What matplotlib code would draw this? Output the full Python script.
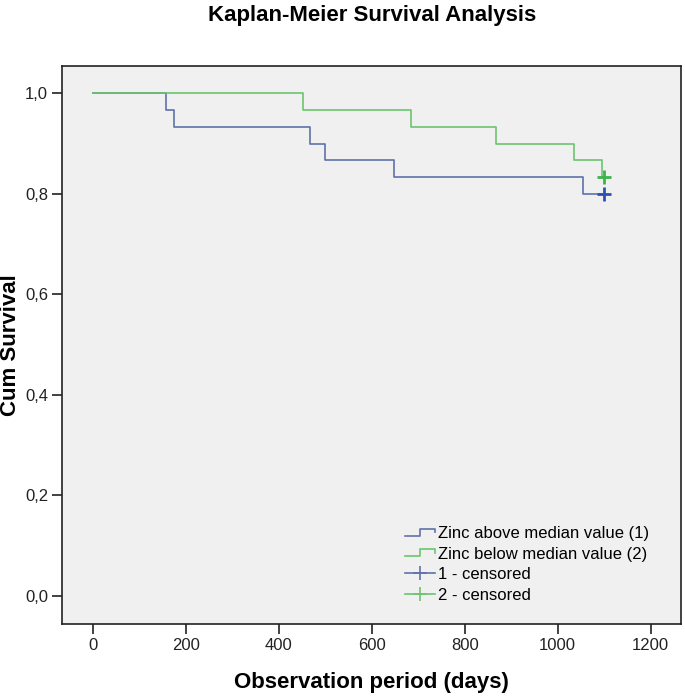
import matplotlib
matplotlib.use("Agg")
import matplotlib.pyplot as plt
from matplotlib.lines import Line2D
from matplotlib.legend_handler import HandlerBase
from matplotlib.ticker import FuncFormatter

plt.rcParams['font.family'] = ['Liberation Sans', 'DejaVu Sans']

# ---- data ----
title = "Kaplan-Meier Survival Analysis"
x_label = "Observation period (days)"
y_label = "Cum Survival"
group_labels = ["Zinc above median value (1)", "Zinc below median value (2)"]
censor_labels = ["1 - censored", "2 - censored"]

g1_times = [0, 157, 176, 467, 500, 647, 1055]
g1_surv = [1.0, 0.967, 0.933, 0.900, 0.867, 0.833, 0.800]
g1_censor_t = [1100]
g1_censor_s = [0.800]

g2_times = [0, 453, 685, 867, 1035, 1095]
g2_surv = [1.0, 0.967, 0.933, 0.900, 0.867, 0.833]
g2_censor_t = [1100]
g2_censor_s = [0.833]

x_ticks = [0, 200, 400, 600, 800, 1000, 1200]
y_ticks = [0.0, 0.2, 0.4, 0.6, 0.8, 1.0]

# ---- styles ----
c1_line = '#5f72aa'
c2_line = '#6cc470'
c1_mark = '#2f4fb4'
c2_mark = '#3cb44a'
bg = '#f0f0f0'


class StepHandler(HandlerBase):
    def create_artists(self, legend, orig_handle, xdescent, ydescent,
                       width, height, fontsize, trans):
        x0 = -xdescent
        y0 = -ydescent
        lo = y0 + height * 0.2
        hi = y0 + height * 0.8
        xs = [x0, x0 + width * 0.5, x0 + width * 0.5, x0 + width, x0 + width]
        ys = [lo, lo, hi, hi, hi - height * 0.3]
        ln = Line2D(xs, ys, color=orig_handle.get_color(),
                    linewidth=orig_handle.get_linewidth(), transform=trans)
        return [ln]


fig = plt.figure(figsize=(6.85, 6.97), dpi=100)
ax = fig.add_axes([62 / 685, 1 - 624 / 697, 619 / 685, 558 / 697])
ax.set_facecolor(bg)

h1, = ax.step(g1_times + g1_censor_t, g1_surv + [g1_surv[-1]], where='post',
              color=c1_line, linewidth=1.2)
h2, = ax.step(g2_times + g2_censor_t, g2_surv + [g2_surv[-1]], where='post',
              color=c2_line, linewidth=1.2)
ax.plot(g1_censor_t, g1_censor_s, linestyle='none', marker='+',
        markersize=10, markeredgewidth=2, color=c1_mark)
ax.plot(g2_censor_t, g2_censor_s, linestyle='none', marker='+',
        markersize=10, markeredgewidth=2, color=c2_mark)

ax.set_xlim(-65.8, 1265)
ax.set_ylim(-0.0557, 1.0543)
ax.set_xticks(x_ticks)
ax.set_yticks(y_ticks)
ax.yaxis.set_major_formatter(FuncFormatter(lambda v, p: f"{v:.1f}".replace('.', ',')))
ax.tick_params(direction='out', length=7, width=1.2, labelsize=12,
               colors='#222222', pad=3)
for s in ax.spines.values():
    s.set_linewidth(1.2)
    s.set_color('#222222')

ax.set_xlabel(x_label, fontsize=16, fontweight='bold', labelpad=14)
ax.set_ylabel(y_label, fontsize=16, fontweight='bold')
ax.yaxis.set_label_coords((21 - 62) / 619, 0.5)
fig.text(372 / 685, 1 - 21 / 697, title, ha='center', va='baseline',
         fontsize=16, fontweight='bold')

c1h = Line2D([], [], color=c1_line, linewidth=1.2, marker='+',
             markersize=10, markeredgewidth=1.2)
c2h = Line2D([], [], color=c2_line, linewidth=1.2, marker='+',
             markersize=10, markeredgewidth=1.2)
leg = ax.legend([h1, h2, c1h, c2h], group_labels + censor_labels,
                handler_map={h1: StepHandler(), h2: StepHandler()},
                loc='upper left', bbox_to_anchor=((405 - 62) / 619, (624 - 526) / 558),
                frameon=False, fontsize=12, handlelength=1.8, handletextpad=0.15,
                labelspacing=0.33, borderpad=0, borderaxespad=0)

fig.savefig('out.png', dpi=100)
